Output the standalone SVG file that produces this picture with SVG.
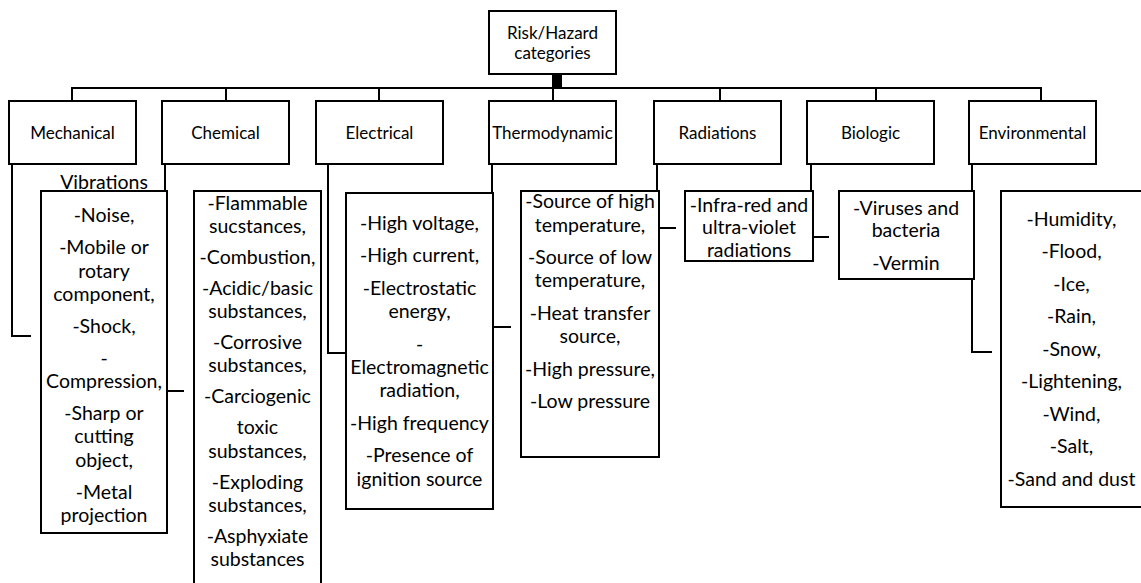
<svg xmlns="http://www.w3.org/2000/svg" width="1141" height="583" viewBox="0 0 1141 583">
  <style>
    .box { fill: #ffffff; stroke: #000000; stroke-width: 2; }
    .wire { fill: none; stroke: #000000; stroke-width: 2; }
    text { font-family: Lato, "Open Sans", "Liberation Sans", sans-serif; fill: #000000; text-anchor: middle; }
    .cat { font-size: 17px; }
    .item { font-size: 19.5px; }
  </style>
  <rect width="1141" height="583" fill="#ffffff"/>

  <!-- tree connectors -->
  <g id="connectors">
    <path class="wire" d="M553,74 V88 H72 V101"/>
    <path class="wire" d="M555,74 V88 H226 V101"/>
    <path class="wire" d="M557,74 V88 H379 V101"/>
    <path class="wire" d="M553,74 V101"/>
    <path class="wire" d="M559,74 V88 H720 V101"/>
    <path class="wire" d="M561,74 V88 H876 V101"/>
    <path class="wire" d="M561,74 V88 H1041 V101"/>
    <!-- category to item list elbows -->
    <path class="wire" d="M12,164 V336 H31"/>
    <path class="wire" d="M165,164 V391 H184"/>
    <path class="wire" d="M328,164 V353 H345"/>
    <path class="wire" d="M492,164 V327 H511"/>
    <path class="wire" d="M657,164 V228 H676"/>
    <path class="wire" d="M811,164 V237 H829"/>
    <path class="wire" d="M972,164 V352 H992"/>
  </g>

  <g id="root">
    <rect class="box" x="489" y="11" width="127" height="63"/>
    <text class="cat" x="552.5" y="38.5">Risk/Hazard</text>
    <text class="cat" x="552.5" y="59">categories</text>
  </g>

  <g id="mechanical">
    <rect class="box" x="9" y="101" width="127" height="63"/>
    <text class="cat" x="72.5" y="138.5">Mechanical</text>
  </g>
  <g id="chemical">
    <rect class="box" x="162" y="101" width="127" height="63"/>
    <text class="cat" x="225.5" y="138.5">Chemical</text>
  </g>
  <g id="electrical">
    <rect class="box" x="316" y="101" width="127" height="63"/>
    <text class="cat" x="379.5" y="138.5">Electrical</text>
  </g>
  <g id="thermodynamic">
    <rect class="box" x="489" y="101" width="127" height="63"/>
    <text class="cat" x="552.5" y="138.5">Thermodynamic</text>
  </g>
  <g id="radiations">
    <rect class="box" x="654" y="101" width="127" height="63"/>
    <text class="cat" x="717.5" y="138.5">Radiations</text>
  </g>
  <g id="biologic">
    <rect class="box" x="807" y="101" width="127" height="63"/>
    <text class="cat" x="870.5" y="138.5">Biologic</text>
  </g>
  <g id="environmental">
    <rect class="box" x="969" y="101" width="127" height="63"/>
    <text class="cat" x="1032.5" y="138.5">Environmental</text>
  </g>

  <g id="mechanical-items">
    <text class="item" x="104" y="188.5">Vibrations</text>
    <rect class="box" x="41" y="191" width="126" height="342"/>
    <text class="item" x="104" y="222.2">-Noise,</text>
    <text class="item" x="104" y="254.2">-Mobile or</text>
    <text class="item" x="104" y="277.5">rotary</text>
    <text class="item" x="104" y="300.8">component,</text>
    <text class="item" x="104" y="332.8">-Shock,</text>
    <text class="item" x="104" y="364.8">-</text>
    <text class="item" x="104" y="388.1">Compression,</text>
    <text class="item" x="104" y="420.1">-Sharp or</text>
    <text class="item" x="104" y="443.4">cutting</text>
    <text class="item" x="104" y="466.7">object,</text>
    <text class="item" x="104" y="498.7">-Metal</text>
    <text class="item" x="104" y="522">projection</text>
  </g>

  <g id="chemical-items">
    <rect class="box" x="194" y="191" width="127" height="420"/>
    <text class="item" x="257.5" y="209.5">-Flammable</text>
    <text class="item" x="257.5" y="232.8">sucstances,</text>
    <text class="item" x="257.5" y="263.8">-Combustion,</text>
    <text class="item" x="257.5" y="294.8">-Acidic/basic</text>
    <text class="item" x="257.5" y="318.1">substances,</text>
    <text class="item" x="257.5" y="349.1">-Corrosive</text>
    <text class="item" x="257.5" y="372.4">substances,</text>
    <text class="item" x="257.5" y="403.4">-Carciogenic</text>
    <text class="item" x="257.5" y="434.4">toxic</text>
    <text class="item" x="257.5" y="457.7">substances,</text>
    <text class="item" x="257.5" y="488.7">-Exploding</text>
    <text class="item" x="257.5" y="512">substances,</text>
    <text class="item" x="257.5" y="543">-Asphyxiate</text>
    <text class="item" x="257.5" y="566.3">substances</text>
  </g>

  <g id="electrical-items">
    <rect class="box" x="346" y="193" width="147" height="316"/>
    <text class="item" x="419.5" y="229.8">-High voltage,</text>
    <text class="item" x="419.5" y="262.3">-High current,</text>
    <text class="item" x="419.5" y="294.8">-Electrostatic</text>
    <text class="item" x="419.5" y="318.1">energy,</text>
    <text class="item" x="419.5" y="350.6">-</text>
    <text class="item" x="419.5" y="373.9">Electromagnetic</text>
    <text class="item" x="419.5" y="397.2">radiation,</text>
    <text class="item" x="419.5" y="429.7">-High frequency</text>
    <text class="item" x="419.5" y="462.2">-Presence of</text>
    <text class="item" x="419.5" y="485.5">ignition source</text>
  </g>

  <g id="thermodynamic-items">
    <rect class="box" x="521" y="191" width="138" height="266"/>
    <text class="item" x="590" y="208.2">-Source of high</text>
    <text class="item" x="590" y="231.5">temperature,</text>
    <text class="item" x="590" y="264">-Source of low</text>
    <text class="item" x="590" y="287.3">temperature,</text>
    <text class="item" x="590" y="319.8">-Heat transfer</text>
    <text class="item" x="590" y="343.1">source,</text>
    <text class="item" x="590" y="375.6">-High pressure,</text>
    <text class="item" x="590" y="408.1">-Low pressure</text>
  </g>

  <g id="radiations-items">
    <rect class="box" x="685" y="191" width="128" height="70"/>
    <text class="item" x="749" y="211.5">-Infra-red and</text>
    <text class="item" x="749" y="234">ultra-violet</text>
    <text class="item" x="749" y="256.5">radiations</text>
  </g>

  <g id="biologic-items">
    <rect class="box" x="839" y="191" width="135" height="88"/>
    <text class="item" x="906" y="214.8">-Viruses and</text>
    <text class="item" x="906" y="237.2">bacteria</text>
    <text class="item" x="906" y="269.8">-Vermin</text>
  </g>

  <g id="environmental-items">
    <rect class="box" x="1001" y="191" width="141" height="316"/>
    <text class="item" x="1071.5" y="225.8">-Humidity,</text>
    <text class="item" x="1071.5" y="258.3">-Flood,</text>
    <text class="item" x="1071.5" y="290.8">-Ice,</text>
    <text class="item" x="1071.5" y="323.3">-Rain,</text>
    <text class="item" x="1071.5" y="355.8">-Snow,</text>
    <text class="item" x="1071.5" y="388.3">-Lightening,</text>
    <text class="item" x="1071.5" y="420.8">-Wind,</text>
    <text class="item" x="1071.5" y="453.3">-Salt,</text>
    <text class="item" x="1071.5" y="485.8">-Sand and dust</text>
  </g>
</svg>
